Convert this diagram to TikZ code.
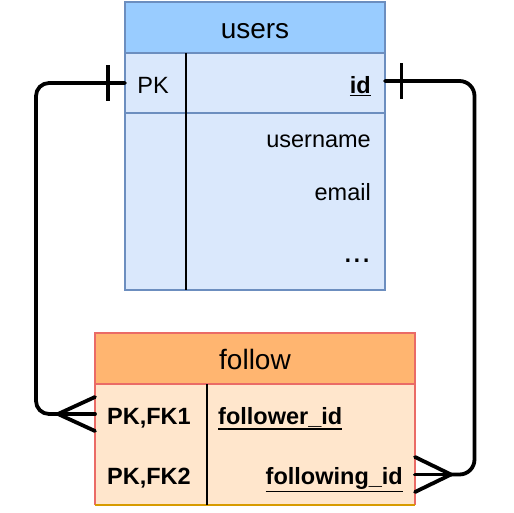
\documentclass[tikz,border=0pt]{standalone}
\usepackage{fontspec}
\setmainfont{Liberation Sans}
\newcommand\myuline[1]{\leavevmode\vtop{\hbox{#1}\kern1.6pt\hrule height 1.3pt}}
\definecolor{uhead}{HTML}{99CCFF}
\definecolor{ubody}{HTML}{DAE8FC}
\definecolor{uline}{HTML}{6C8EBF}
\definecolor{fhead}{HTML}{FFB570}
\definecolor{fbody}{HTML}{FFE6CC}
\definecolor{fline}{HTML}{EA6B66}
\definecolor{fbot}{HTML}{D79B00}
\begin{document}
\begin{tikzpicture}[x=1pt,y=-1pt,
  cell/.style={rectangle,anchor=north west,inner sep=0pt,outer sep=0pt},
  title/.style={font=\fontsize{28}{30}\selectfont,anchor=base},
  txt/.style={font=\fontsize{23.5}{26}\selectfont,inner sep=0pt},
  conn/.style={line width=3.8pt,line cap=round,line join=round},
  divider/.style={line width=2pt}]
\useasboundingbox (0,0) rectangle (514,512);
% users table
\node[cell,fill=ubody,draw=uline,line width=1.2pt,minimum width=260pt,minimum height=288pt] (users) at (125,2) {};
\node[cell,fill=uhead,draw=uline,line width=1.2pt,minimum width=260pt,minimum height=51pt] (usersHead) at (125,2) {};
\node[cell,draw=uline,line width=1.2pt,minimum width=260pt,minimum height=60pt] (usersPK) at (125,53) {};
\draw[divider] (186,53) -- (186,290);
\node[title] (usersTitle) at (255,38) {users};
\node[txt,anchor=base] (pk) at (153,93) {PK};
\node[txt,anchor=base east] (id) at (371,93) {\myuline{\textbf{id}}};
\node[txt,anchor=base east] (username) at (371,147) {username};
\node[txt,anchor=base east] (email) at (371,200) {email};
\node[txt,anchor=base east,font=\fontsize{33}{34}\selectfont] (dots) at (371,262) {...};
% follow table
\node[cell,fill=fbody,minimum width=320pt,minimum height=172pt] (follow) at (95,333) {};
\node[cell,fill=fhead,draw=fline,line width=1.2pt,minimum width=320pt,minimum height=51pt] (followHead) at (95,333) {};
\draw[fline,line width=1.2pt] (95,384) -- (95,505);
\draw[fline,line width=1.2pt] (415,384) -- (415,505);
\draw[fbot,line width=1.6pt] (95,505) -- (415,505);
\draw[divider] (207,384) -- (207,505);
\node[title] (followTitle) at (255,369) {follow};
\node[txt,anchor=base west] (fk1) at (107,424) {\textbf{PK,FK1}};
\node[txt,anchor=base west] (fk2) at (107,484) {\textbf{PK,FK2}};
\node[txt,anchor=base west] (follower) at (218,424) {\myuline{\textbf{follower\_id}}};
\node[txt,anchor=base east] (following) at (403,484) {\myuline{\textbf{following\_id}}};
% connector coordinates
\coordinate (uL) at (125,83);
\coordinate (uR) at (385,81);
\coordinate (fL) at (95,414);
\coordinate (fR) at (415,474.5);
\coordinate (cL) at (58,414);
\coordinate (cR) at (451,474.5);
% left connector
\draw[conn,rounded corners=13pt] (uL) -- (36,83) -- (36,414) -- (cL);
\draw[conn] (cL) -- (fL);
\draw[conn] (95,397) -- (cL) -- (95,431);
\draw[conn,line cap=butt] (108,65) -- (108,101);
% right connector
\draw[conn,rounded corners=15pt] (uR) -- (474.5,81) -- (474.5,474.5) -- (cR);
\draw[conn] (cR) -- (fR);
\draw[conn] (415,457) -- (cR) -- (415,492);
\draw[conn,line cap=butt] (401.5,63) -- (401.5,99);
\end{tikzpicture}
\end{document}
